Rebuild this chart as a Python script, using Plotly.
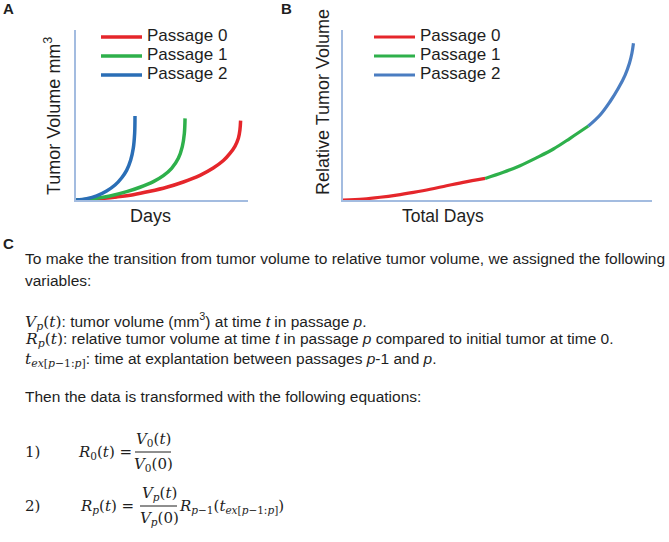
import plotly.graph_objects as go

W, H = 669, 542


def px(x):
    return x / W


def py(y):
    return 1 - y / H


# ---------------- data (schematic, arbitrary units) ----------------
passages = ["Passage 0", "Passage 1", "Passage 2"]

# Panel A: tumor volume vs days within each passage
days_p0 = [0, 14.0, 23.7, 33.3, 43.0, 52.7, 62.4, 72.1, 79.8, 85.7, 89.5, 92.4, 94.4, 95.3, 95.7]
vol_p0 = [0, 0.8, 1.8, 3.1, 5.1, 7.5, 10.6, 14.5, 18.8, 23.2, 27.4, 31.6, 36.3, 41.2, 46.7]
days_p1 = [0, 10.1, 19.8, 29.5, 37.2, 45.0, 50.8, 55.6, 59.5, 61.8, 63.0, 63.4]
vol_p1 = [0, 0.8, 2.4, 4.9, 7.5, 10.8, 14.3, 18.6, 24.5, 31.4, 39.2, 48.0]
days_p2 = [0, 6.2, 12.0, 17.8, 22.7, 26.6, 29.5, 31.8, 33.3, 34.1, 34.3]
vol_p2 = [0, 0.8, 2.4, 5.3, 8.8, 13.1, 17.6, 23.5, 30.4, 39.2, 49.4]

# Panel B: relative tumor volume vs total days
tdays_p0 = [0, 6.6, 12.0, 17.4, 22.8, 28.2, 33.5, 38.9, 46.0]
rel_p0 = [0, 0.6, 1.6, 2.9, 4.5, 6.3, 8.4, 10.4, 12.7]
tdays_p1 = [46.0, 51.9, 57.3, 62.7, 68.1, 73.5, 79.4]
rel_p1 = [12.7, 16.3, 20.2, 24.9, 30.0, 36.3, 43.5]
tdays_p2 = [79.4, 83.2, 86.4, 89.1, 91.3, 92.7, 93.5, 94.0]
rel_p2 = [43.5, 50.0, 57.8, 65.7, 73.5, 80.4, 86.3, 92.2]

colors_a = ["#e5262b", "#2eb04b", "#2a6eb6"]
colors_b = ["#e5262b", "#2eb04b", "#4a7dc1"]

SANS = "Arial, Liberation Sans, sans-serif"
SERIF = "DejaVu Serif, serif"
AXC = "#a3bce0"
TXT = "#1e1e1e"

fig = go.Figure()


def legend_label(s):
    return "<span style='font-size:17px'>" + s + "</span>"


a_x = [days_p0, days_p1, days_p2]
a_y = [vol_p0, vol_p1, vol_p2]
for name, xs, ys, c in zip(passages, a_x, a_y, colors_a):
    fig.add_trace(go.Scatter(x=xs, y=ys, mode="lines", name=legend_label(name),
                             line=dict(color=c, width=3.5, shape="spline", smoothing=1.0),
                             xaxis="x", yaxis="y", legend="legend"))

b_x = [tdays_p0, tdays_p1, tdays_p2]
b_y = [rel_p0, rel_p1, rel_p2]
for name, xs, ys, c in zip(passages, b_x, b_y, colors_b):
    fig.add_trace(go.Scatter(x=xs, y=ys, mode="lines", name=legend_label(name),
                             line=dict(color=c, width=3.2, shape="spline", smoothing=1.0),
                             xaxis="x2", yaxis="y2", legend="legend2"))

axis_common = dict(showline=True, linecolor=AXC, linewidth=1.5, showgrid=False,
                   zeroline=False, showticklabels=False, ticks="", mirror=False,
                   fixedrange=True)

leg_common = dict(xanchor="left", yanchor="top",
                  font=dict(size=10.6, family=SANS, color=TXT),
                  bgcolor="rgba(0,0,0,0)", tracegroupgap=0, itemwidth=41)

fig.update_layout(
    width=W, height=H,
    margin=dict(l=0, r=0, t=0, b=0),
    paper_bgcolor="white", plot_bgcolor="white",
    font=dict(family=SANS, color=TXT),
    xaxis=dict(domain=[px(76), px(248)], range=[0, 100], anchor="y", **axis_common),
    yaxis=dict(domain=[py(200), py(30)], range=[0, 100], anchor="x", **axis_common),
    xaxis2=dict(domain=[px(343), px(652)], range=[0, 100], anchor="y2", **axis_common),
    yaxis2=dict(domain=[py(200), py(30)], range=[0, 100], anchor="x2", **axis_common),
    legend=dict(x=px(96), y=py(22.5), **leg_common),
    legend2=dict(x=px(369), y=py(22.5), **leg_common),
)

ann = []


def text(x, y, s, size=15, family=SANS, xanchor="left", angle=0, bold=False, color=TXT):
    if bold:
        s = "<b>" + s + "</b>"
    ann.append(dict(x=px(x), y=py(y), xref="paper", yref="paper", text=s,
                    showarrow=False, xanchor=xanchor, yanchor="middle",
                    textangle=angle, font=dict(size=size, family=family, color=color)))


# panel letters
text(1, 8, "A", size=15, bold=True)
text(279, 8, "B", size=15, bold=True)
text(1, 243, "C", size=15, bold=True)

# axis titles
text(52, 116, "Tumor Volume mm<sup>3</sup>", size=18, xanchor="center", angle=-90)
text(150, 216, "Days", size=18, xanchor="center")
text(323, 102, "Relative Tumor Volume", size=18, xanchor="center", angle=-90)
text(443, 216, "Total Days", size=17.5, xanchor="center")


def m(s):
    return "<span style='font-family:DejaVu Serif'>" + s + "</span>"


body = 15.5
text(23, 258, "To make the transition from tumor volume to relative tumor volume, we assigned the following", size=body)
text(23, 280, "variables:", size=body)
text(23, 321, m("<i>V</i><sub><i>p</i></sub>(<i>t</i>)") + ": tumor volume (mm<sup>3</sup>) at time <i>t</i> in passage <i>p</i>.", size=body)
text(23, 340, m("<i>R</i><sub><i>p</i></sub>(<i>t</i>)") + ": relative tumor volume at time <i>t</i> in passage <i>p</i> compared to initial tumor at time 0.", size=body)
text(23, 360, m("<i>t</i><sub><i>ex</i>[<i>p</i>−1:<i>p</i>]</sub>") + ": time at explantation between passages <i>p</i>-1 and <i>p</i>.", size=body)
text(23, 396, "Then the data is transformed with the following equations:", size=body)

# equations
eq = 15
text(23, 452, "1)", size=eq, family=SERIF)
text(76, 452, "<i>R</i><sub>0</sub>(<i>t</i>) =", size=eq, family=SERIF)
text(153, 439, "<i>V</i><sub>0</sub>(<i>t</i>)", size=eq, family=SERIF, xanchor="center")
text(153, 464, "<i>V</i><sub>0</sub>(0)", size=eq, family=SERIF, xanchor="center")

text(23, 506, "2)", size=eq, family=SERIF)
text(78, 506, "<i>R</i><sub><i>p</i></sub>(<i>t</i>) =", size=eq, family=SERIF)
text(159, 493, "<i>V</i><sub><i>p</i></sub>(<i>t</i>)", size=eq, family=SERIF, xanchor="center")
text(159, 518, "<i>V</i><sub><i>p</i></sub>(0)", size=eq, family=SERIF, xanchor="center")
text(177, 506, "<i>R</i><sub><i>p</i>−1</sub>(<i>t</i><sub><i>ex</i>[<i>p</i>−1:<i>p</i>]</sub>)", size=eq, family=SERIF)

fig.update_layout(annotations=ann)
fig.add_shape(type="line", xref="paper", yref="paper", x0=px(135), x1=px(171),
              y0=py(452), y1=py(452), line=dict(color=TXT, width=1))
fig.add_shape(type="line", xref="paper", yref="paper", x0=px(140), x1=px(177),
              y0=py(506), y1=py(506), line=dict(color=TXT, width=1))

fig.write_html("out.html", config={"displayModeBar": False},
               post_script="document.body.style.margin='0px';")
